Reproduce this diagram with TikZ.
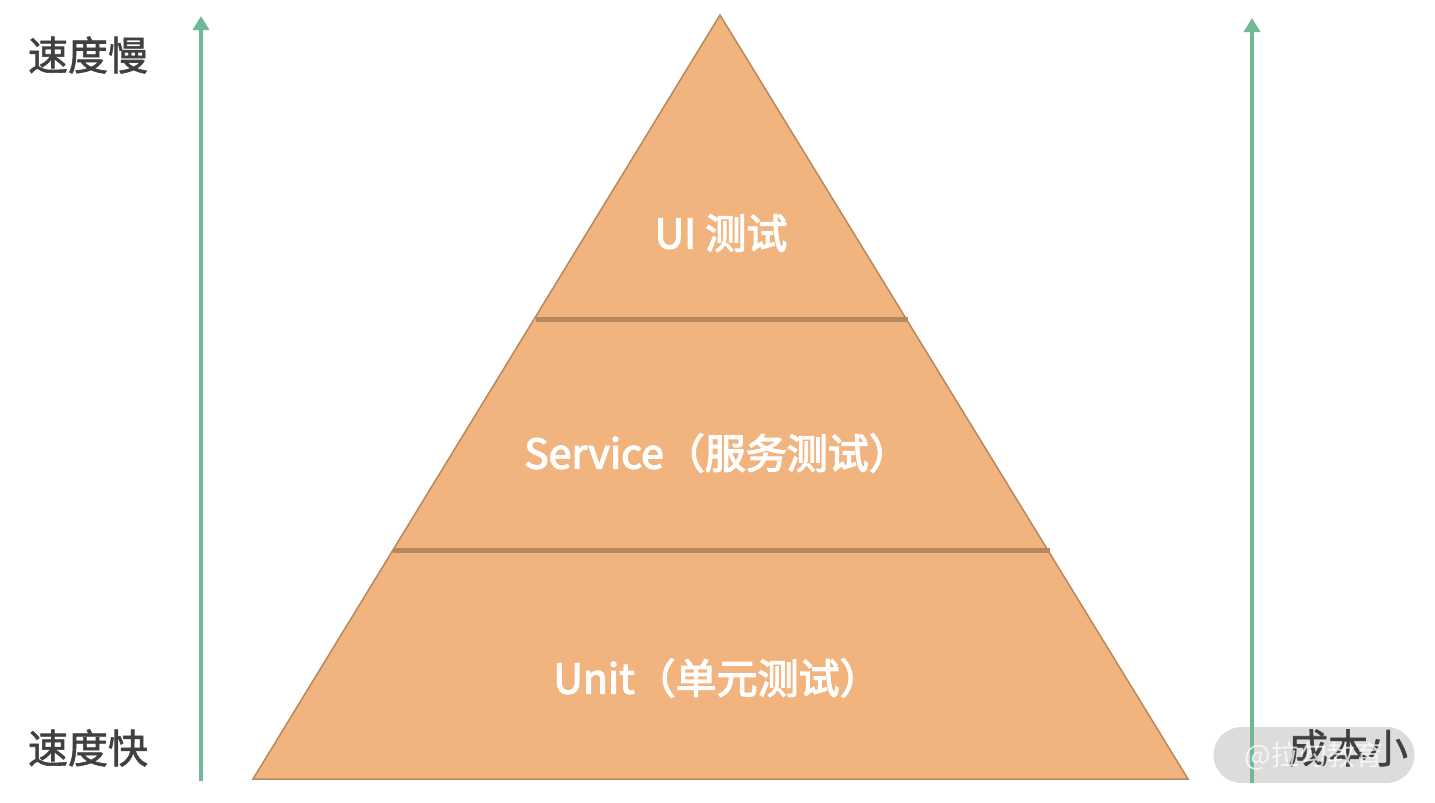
\documentclass[tikz,border=0pt]{standalone}
\usepackage{fontspec}
\setmainfont{Noto Sans CJK SC}
\newfontfamily\medfont[FakeBold=3]{Noto Sans CJK SC}
\newfontfamily\sidefont[FakeBold=1.5]{Noto Sans CJK SC}
\usetikzlibrary{arrows.meta}
\definecolor{pyrfill}{HTML}{F2B47E}
\definecolor{pyredge}{HTML}{B8875C}
\definecolor{arrowgreen}{HTML}{72B896}
\definecolor{labelgray}{HTML}{404040}
\definecolor{wmgray}{HTML}{D6D6D6}
\tikzset{
  pyr/.style={fill=pyrfill, draw=pyredge, line width=1.5pt, line join=miter},
  divider/.style={draw=pyredge, line width=5pt},
  axisarrow/.style={draw=arrowgreen, line width=4pt, -{Triangle[length=14pt,width=16pt]}},
  sidelabel/.style={text=labelgray, font=\sidefont\fontsize{40}{44}\selectfont, inner sep=0pt},
  layerlabel/.style={text=white, font=\medfont\fontsize{41}{45}\selectfont, inner sep=0pt},
  wmark/.style={fill=wmgray, fill opacity=0.85, rounded corners=28pt, minimum width=201pt, minimum height=56pt},
}
\begin{document}
\begin{tikzpicture}[x=1pt,y=-1pt]
\useasboundingbox (0,0) rectangle (1435,803);
% pyramid
\coordinate (apex) at (720,15);
\coordinate (bl) at (253,779);
\coordinate (br) at (1188,779);
\path[pyr] (apex) -- (br) -- (bl) -- cycle;
\coordinate (d1l) at (536,319);
\coordinate (d1r) at (908,319);
\coordinate (d2l) at (393,550);
\coordinate (d2r) at (1050,550);
\draw[divider] (d1l) -- (d1r);
\draw[divider] (d2l) -- (d2r);
% layer labels
\node[layerlabel] (ui) at (721,233) {UI 测试};
\node[layerlabel] (svc) at (717,453) {Service（服务测试）};
\node[layerlabel] (unit) at (717,678) {Unit（单元测试）};
% axes
\coordinate (la0) at (201,781);
\coordinate (la1) at (201,16);
\coordinate (ra0) at (1252,783);
\coordinate (ra1) at (1252,18);
\draw[axisarrow] (la0) -- (la1);
% watermark box
\node[wmark] (wm) at (1314,755) {};
\draw[axisarrow] (ra0) -- (ra1);
% side labels
\node[sidelabel] (slow) at (88,55) {速度慢};
\node[sidelabel] (fast) at (88,748) {速度快};
\node[sidelabel] (cost) at (1348,748) {成本小};
% watermark text
\node[text=white, text opacity=0.75, font=\fontsize{28}{32}\selectfont, inner sep=0pt] (wmt) at (1314,756) {@拉勾教育};
\end{tikzpicture}
\end{document}
